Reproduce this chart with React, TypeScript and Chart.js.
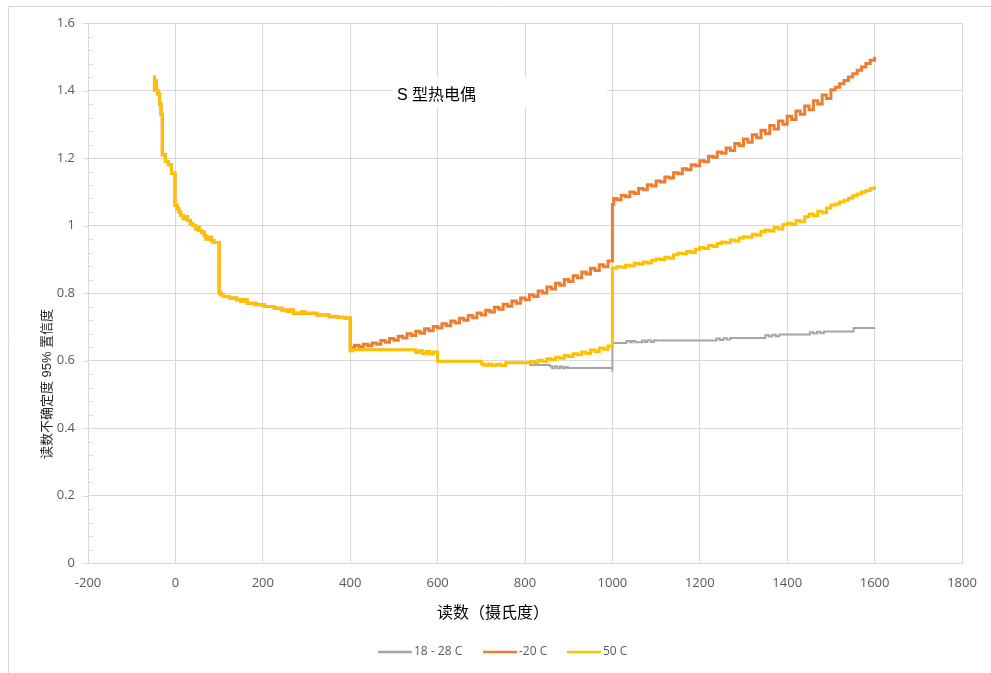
import React, { useEffect, useRef } from 'react';
import { Chart, registerables } from 'chart.js';

Chart.register(...registerables);

// ---------- data (temperature °C, uncertainty) ----------
const xTicks = [-200, 0, 200, 400, 600, 800, 1000, 1200, 1400, 1600, 1800];
const yTicks = [0, 0.2, 0.4, 0.6, 0.8, 1.0, 1.2, 1.4, 1.6];
const yTickLabels = ['0', '0.2', '0.4', '0.6', '0.8', '1', '1.2', '1.4', '1.6'];

const seriesNames = ['18 - 28 C', '-20 C', '50 C'];
const seriesColors = ['#A5A5A5', '#ED7D31', '#FFC000'];

// shared by all three series (-50 .. 400)
const lowSegment: [number, number][] = [
  [-50, 1.44], [-48, 1.40], [-46, 1.43], [-44, 1.40], [-40, 1.39], [-36, 1.36], [-33, 1.33],
  [-30, 1.21], [-23, 1.19], [-16, 1.18], [-9, 1.155], [-1, 1.06], [4, 1.05], [8, 1.04],
  [12, 1.03], [18, 1.02], [24, 1.025], [28, 1.015], [34, 1.005], [40, 1.0], [46, 0.99],
  [50, 0.995], [54, 0.985], [60, 0.98], [66, 0.97], [70, 0.96], [76, 0.965], [82, 0.955],
  [88, 0.95], [100, 0.80], [104, 0.795], [110, 0.79], [124, 0.785], [140, 0.78], [150, 0.775],
  [156, 0.78], [164, 0.77], [184, 0.765], [204, 0.76], [226, 0.755], [244, 0.75], [256, 0.745],
  [262, 0.75], [270, 0.74], [290, 0.745], [296, 0.74], [324, 0.735], [352, 0.73], [372, 0.728],
  [386, 0.726],
];

// shared by 18-28 C and 50 C (400 .. 756)
const midSegment: [number, number][] = [
  [400, 0.628], [405, 0.632], [550, 0.624], [558, 0.629], [566, 0.620], [574, 0.627],
  [582, 0.619], [590, 0.625], [600, 0.598], [700, 0.590], [706, 0.586], [716, 0.590],
  [724, 0.585], [734, 0.589], [744, 0.585], [756, 0.593],
];

const grayTail: [number, number][] = [
  [812, 0.587], [857, 0.583], [862, 0.577], [868, 0.583], [874, 0.577], [880, 0.582],
  [886, 0.577], [892, 0.581], [898, 0.578], [1000, 0.567], [1000, 0.652], [1032, 0.658],
  [1040, 0.654], [1045, 0.658], [1052, 0.654], [1068, 0.659], [1074, 0.655], [1080, 0.660],
  [1088, 0.655], [1095, 0.660], [1102, 0.659], [1238, 0.665], [1246, 0.661], [1254, 0.666],
  [1262, 0.662], [1270, 0.667], [1350, 0.675], [1358, 0.671], [1366, 0.676], [1374, 0.672],
  [1382, 0.677], [1452, 0.684], [1460, 0.680], [1468, 0.685], [1476, 0.681], [1484, 0.686],
  [1552, 0.696], [1600, 0.697],
];

const orangeTail: [number, number][] = [
  [400, 0.638], [410, 0.645], [420, 0.641], [430, 0.648], [440, 0.644], [450, 0.652],
  [460, 0.648], [470, 0.659], [480, 0.654], [490, 0.665], [500, 0.660], [510, 0.672],
  [520, 0.667], [530, 0.679], [540, 0.674], [550, 0.687], [560, 0.681], [570, 0.694],
  [580, 0.688], [590, 0.701], [600, 0.696], [610, 0.709], [620, 0.703], [630, 0.717],
  [640, 0.711], [650, 0.725], [660, 0.719], [670, 0.733], [680, 0.727], [690, 0.741],
  [700, 0.735], [710, 0.749], [720, 0.744], [730, 0.758], [740, 0.752], [750, 0.767],
  [760, 0.761], [770, 0.776], [780, 0.770], [790, 0.785], [800, 0.780], [810, 0.795],
  [820, 0.790], [830, 0.806], [840, 0.800], [850, 0.818], [860, 0.812], [870, 0.829],
  [880, 0.823], [890, 0.840], [900, 0.834], [910, 0.851], [920, 0.845], [930, 0.862],
  [940, 0.856], [950, 0.873], [960, 0.867], [970, 0.884], [980, 0.878], [990, 0.895],
  [1000, 1.062], [1003, 1.080], [1010, 1.076], [1020, 1.089], [1030, 1.085], [1040, 1.099],
  [1050, 1.095], [1060, 1.110], [1070, 1.106], [1080, 1.121], [1090, 1.117], [1100, 1.132],
  [1110, 1.129], [1120, 1.144], [1130, 1.141], [1140, 1.156], [1150, 1.153], [1160, 1.168],
  [1170, 1.165], [1180, 1.180], [1190, 1.177], [1200, 1.192], [1210, 1.189], [1220, 1.205],
  [1230, 1.202], [1240, 1.218], [1250, 1.214], [1260, 1.230], [1270, 1.222], [1280, 1.243],
  [1290, 1.236], [1300, 1.256], [1310, 1.247], [1320, 1.269], [1330, 1.260], [1340, 1.282],
  [1350, 1.272], [1360, 1.296], [1370, 1.286], [1380, 1.310], [1390, 1.300], [1400, 1.324],
  [1410, 1.314], [1420, 1.339], [1430, 1.330], [1440, 1.354], [1450, 1.343], [1460, 1.370],
  [1470, 1.360], [1480, 1.387], [1490, 1.376], [1500, 1.402], [1510, 1.410], [1520, 1.420],
  [1530, 1.430], [1540, 1.440], [1550, 1.450], [1560, 1.460], [1570, 1.470], [1580, 1.480],
  [1590, 1.490], [1600, 1.500],
];

const yellowTail: [number, number][] = [
  [812, 0.596], [822, 0.593], [830, 0.601], [840, 0.598], [850, 0.605], [860, 0.602],
  [870, 0.610], [880, 0.607], [890, 0.615], [900, 0.612], [910, 0.620], [920, 0.617],
  [930, 0.625], [940, 0.621], [950, 0.631], [960, 0.627], [970, 0.637], [980, 0.633],
  [990, 0.643], [1000, 0.874], [1010, 0.878], [1020, 0.876], [1030, 0.882], [1040, 0.880],
  [1050, 0.888], [1060, 0.885], [1070, 0.892], [1080, 0.889], [1090, 0.897], [1100, 0.901],
  [1110, 0.899], [1120, 0.906], [1130, 0.903], [1140, 0.913], [1150, 0.918], [1160, 0.916],
  [1170, 0.923], [1180, 0.920], [1190, 0.930], [1200, 0.935], [1210, 0.932], [1220, 0.941],
  [1230, 0.938], [1240, 0.947], [1250, 0.951], [1260, 0.949], [1270, 0.957], [1280, 0.954],
  [1290, 0.963], [1300, 0.967], [1310, 0.965], [1320, 0.974], [1330, 0.971], [1340, 0.982],
  [1350, 0.987], [1360, 0.984], [1370, 0.994], [1380, 0.990], [1390, 1.002], [1400, 1.007],
  [1410, 1.003], [1420, 1.015], [1430, 1.011], [1440, 1.026], [1450, 1.034], [1460, 1.030],
  [1470, 1.042], [1480, 1.038], [1490, 1.052], [1500, 1.061], [1510, 1.064], [1520, 1.070],
  [1530, 1.075], [1540, 1.081], [1550, 1.088], [1560, 1.093], [1570, 1.099], [1580, 1.104],
  [1590, 1.110], [1600, 1.116],
];

const chartTitle = 'S 型热电偶';
const xTitle = '读数（摄氏度）';
const yTitle = '读数不确定度 95% 置信度';

// ---------- helpers ----------
const W = 991;
const H = 673;
const GRID = '#D9D9D9';
const TEXT = '#595959';
const TICK_FONT = '"Open Sans", "Liberation Sans", sans-serif';
const CJK_FONT = '"Liberation Sans", "Noto Sans CJK SC", sans-serif';

const toPts = (arr: [number, number][]) => arr.map(([x, y]) => ({ x, y }));

const decorPlugin = {
  id: 'decor',
  beforeDatasetsDraw(chart: any) {
    const ctx = chart.ctx;
    ctx.save();
    // white box behind the title (hides gridlines)
    ctx.fillStyle = '#ffffff';
    ctx.fillRect(393, 78, 214, 29);
    ctx.fillStyle = '#000000';
    ctx.font = '16px ' + CJK_FONT;
    ctx.textAlign = 'left';
    ctx.textBaseline = 'middle';
    ctx.fillText(chartTitle, 397, 96);
    ctx.restore();
  },
  afterDraw(chart: any) {
    const ctx = chart.ctx;
    const y = chart.scales.y;
    const x = chart.scales.x;
    ctx.save();
    // outer frame (left + top)
    ctx.strokeStyle = GRID;
    ctx.lineWidth = 1;
    ctx.beginPath();
    ctx.moveTo(8.5, H);
    ctx.lineTo(8.5, 6.5);
    ctx.lineTo(W, 6.5);
    ctx.stroke();

    // y tick marks
    const left = Math.round(x.left) + 0.5;
    ctx.beginPath();
    for (let i = 0; i <= 40; i++) {
      const v = i * 0.04;
      const py = Math.round(y.getPixelForValue(v)) + 0.5;
      if (i % 5 === 0) {
        ctx.moveTo(left - 6, py);
        ctx.lineTo(left, py);
      } else {
        ctx.moveTo(left, py);
        ctx.lineTo(left + 4, py);
      }
    }
    ctx.stroke();

    // y title
    ctx.fillStyle = '#262626';
    ctx.font = '13px ' + CJK_FONT;
    ctx.textAlign = 'center';
    ctx.textBaseline = 'middle';
    ctx.save();
    ctx.translate(47, 384);
    ctx.rotate(-Math.PI / 2);
    ctx.fillText(yTitle, 0, 0);
    ctx.restore();

    // x title
    ctx.fillStyle = '#000000';
    ctx.font = '16px ' + CJK_FONT;
    ctx.fillText(xTitle, 493, 614);

    // legend
    const legendX = [378, 483, 567];
    ctx.font = '12px ' + TICK_FONT;
    ctx.textAlign = 'left';
    ctx.textBaseline = 'middle';
    seriesNames.forEach((name, i) => {
      const lx = legendX[i];
      ctx.strokeStyle = seriesColors[i];
      ctx.lineWidth = 2.5;
      ctx.beginPath();
      ctx.moveTo(lx, 652);
      ctx.lineTo(lx + 34, 652);
      ctx.stroke();
      ctx.fillStyle = TEXT;
      ctx.fillText(name, lx + 36, 652);
    });
    ctx.restore();
  },
};

export default function App() {
  const ref = useRef<HTMLCanvasElement | null>(null);

  useEffect(() => {
    if (!ref.current) return;
    const series = [
      [...toPts(lowSegment), ...toPts(midSegment), ...toPts(grayTail)],
      [...toPts(lowSegment), ...toPts(orangeTail)],
      [...toPts(lowSegment), ...toPts(midSegment), ...toPts(yellowTail)],
    ];
    const widths = [2, 3, 3];
    const orders = [2, 1, 0];
    const chart = new Chart(ref.current, {
      type: 'line',
      data: {
        datasets: series.map((d, i) => ({
          label: seriesNames[i],
          data: d,
          borderColor: seriesColors[i],
          backgroundColor: seriesColors[i],
          borderWidth: widths[i],
          pointRadius: 0,
          stepped: 'before' as const,
          fill: false,
          order: orders[i],
        })),
      },
      options: {
        animation: false,
        responsive: false,
        events: [],
        layout: { padding: { left: 0, right: 29, top: 23, bottom: 0 } },
        plugins: {
          legend: { display: false },
          tooltip: { enabled: false },
          title: { display: false },
        },
        scales: {
          x: {
            type: 'linear',
            min: -200,
            max: 1800,
            afterBuildTicks: (s: any) => {
              s.ticks = xTicks.map((v) => ({ value: v }));
            },
            afterFit: (s: any) => {
              s.height = 110;
            },
            grid: { color: GRID, drawTicks: false, lineWidth: 1 },
            border: { color: GRID },
            ticks: {
              padding: 12,
              color: TEXT,
              font: { family: TICK_FONT, size: 13 },
              maxRotation: 0,
              callback: (v: any) => String(v),
            },
          },
          y: {
            type: 'linear',
            min: 0,
            max: 1.6,
            afterBuildTicks: (s: any) => {
              s.ticks = yTicks.map((v) => ({ value: v }));
            },
            afterFit: (s: any) => {
              s.width = 88;
            },
            grid: { color: GRID, drawTicks: false, lineWidth: 1 },
            border: { color: GRID },
            ticks: {
              padding: 13,
              color: TEXT,
              font: { family: TICK_FONT, size: 13 },
              callback: (_v: any, i: number) => yTickLabels[i],
            },
          },
        },
      },
      plugins: [decorPlugin],
    });
    return () => chart.destroy();
  }, []);

  return (
    <div style={{ position: 'absolute', left: 0, top: 0, width: W, height: H, background: '#ffffff' }}>
      <canvas ref={ref} width={W} height={H} style={{ display: 'block', width: W, height: H }} />
    </div>
  );
}
